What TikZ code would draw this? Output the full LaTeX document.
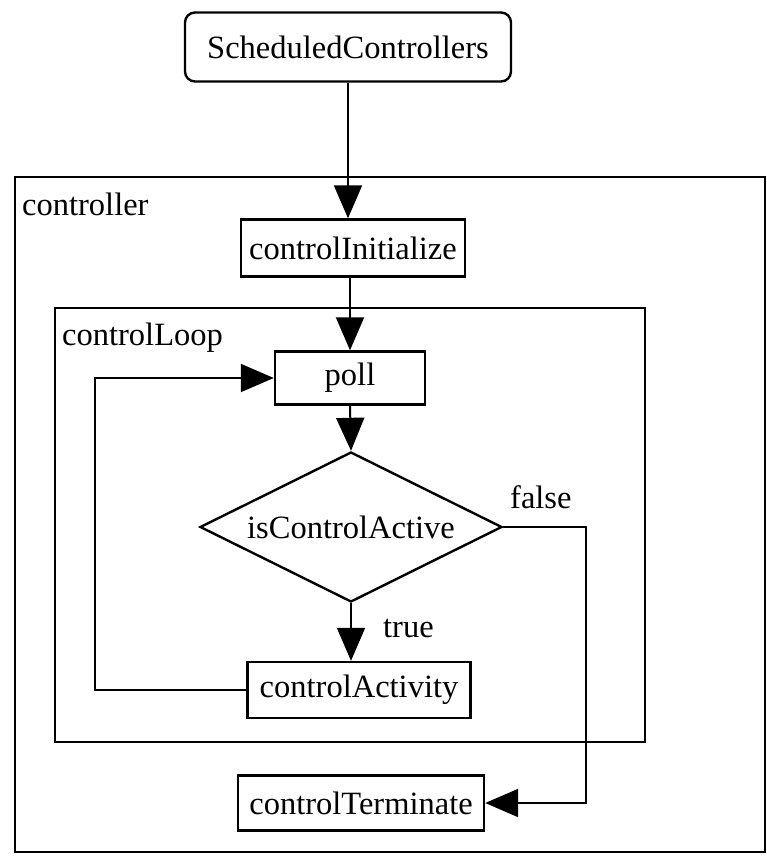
\documentclass[tikz,border=0pt]{standalone}
\usepackage{fontspec}
\setmainfont{Liberation Serif}
\usepackage{tikz}
\usetikzlibrary{shapes,arrows.meta,positioning,calc}

\begin{document}
\begin{tikzpicture}[x=1pt, y=-1pt,
    every node/.style={font=\fontsize{32.5}{39}\selectfont},
    box/.style={draw, rectangle, line width=2.4pt, inner sep=0pt, minimum height=56pt},
    tag/.style={inner sep=0pt, anchor=base west},
    flow/.style={line width=2pt, -{Triangle[length=33pt,width=28pt]}}]
    \useasboundingbox (0,0) rectangle (767,862);

    % Frames
    \draw[line width=2.4pt] (15,177) rectangle (765,852);
    \node[tag] (controller-label) at (22,215) {controller};
    \draw[line width=1.3pt] (55,308) rectangle (645,742);
    \node[tag] (loop-label) at (62,345) {controlLoop};

    % Steps
    \node[box, rounded corners=10pt, minimum width=326pt, minimum height=69pt] (sched) at (348,47) {ScheduledControllers};
    \node[box, minimum width=224pt, minimum height=57pt] (init) at (353,248) {controlInitialize};
    \node[box, minimum width=150pt, minimum height=53pt] (poll) at (350,378) {poll};
    \node[draw, diamond, aspect=2, line width=2.4pt, inner sep=0pt, minimum width=302pt, minimum height=150pt] (active) at (351,527) {isControlActive};
    \node[box, minimum width=223pt] (activity) at (359,690) {controlActivity};
    \node[box, minimum width=246pt, minimum height=55pt] (terminate) at (361,803) {controlTerminate};

    % Flow
    \coordinate (loop-back) at (95,500);
    \coordinate (false-turn) at (586,650);
    \draw[flow] (sched.south) -- (sched.south |- init.north);
    \draw[flow] (init.south -| poll.north) -- (poll.north);
    \draw[flow] (poll.south) -- (active.north);
    \draw[flow] (active.south) -- (active.south |- activity.north);
    \draw[flow] (activity.west) -| (loop-back) |- (poll.west);
    \draw[flow] (active.east) -| (false-turn) |- (terminate.east);

    \node[tag] (true-label) at (383,637) {true};
    \node[tag] (false-label) at (510,508) {false};
\end{tikzpicture}
\end{document}
